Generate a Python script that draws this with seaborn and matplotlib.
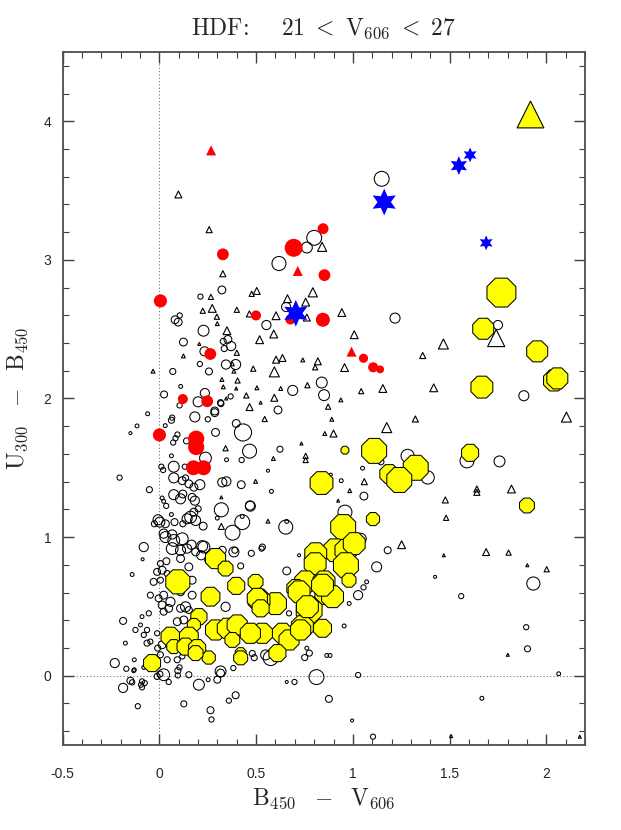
"""
plot.py - HDF colour-colour diagram (U300-B450 vs B450-V606)
"""
import matplotlib

matplotlib.use("Agg")

import matplotlib.pyplot as plt
from matplotlib.ticker import MultipleLocator
import numpy as np
import pandas as pd
import seaborn as sns

# open circles: B450-V606, U300-B450, V606 magnitude
circ_x = [0.618, 0.80, 0.762, 0.323, 0.212, 0.655, 1.149, 0.081, 0.105, 0.097, 0.553, 0.228, 0.124,
          0.354, 0.371, 0.33, 0.335, 0.233, 0.209, 0.344, 0.394, 0.069, 0.256, 0.11, 0.024, 0.235,
          0.368, 0.839, 0.689, 0.851, 1.218, 1.75, 0.613, 1.884, 0.466, 0.623, 1.283, 1.59, 1.758,
          1.387, 1.145, 1.05, 0.886, 0.94, 0.561, 0.579, 1.057, 0.653, 0.658, 0.959, 1.041, 0.528,
          0.722, 0.658, 1.18, 1.123, 1.071, 1.055, 1.027, 0.981, 0.955, 1.425, 1.56, 1.933, 1.896,
          1.903, 0.882, 0.865, 0.775, 0.751, 0.762, 0.575, 0.549, 0.812, 1.027, 0.698, 0.658, 0.876,
          0.996, 1.104, 1.667, 2.064, 0.67,
          -0.081, 0.066, 0.109, 0.143, 0.187, 0.23, 0.109, 0.036, 0.005, 0.385, 0.42, 0.475, -0.087,
          -0.141, -0.012, 0.014, -0.03, 0.04, 0.005, -0.047, -0.004, 0.022, 0.057, 0.014, 0.048,
          0.022, 0.109, 0.135, 0.169, -0.055, -0.09, -0.124, -0.098, -0.188, -0.176, -0.231, -0.171,
          -0.133, -0.081, -0.012, 0.022, -0.188, -0.15, -0.141, -0.09, -0.095, -0.076, -0.09, -0.112,
          0.048, 0.095, 0.104, 0.095, 0.152, 0.204, 0.126, 0.264, 0.269, 0.359, 0.394, 0.316, 0.252,
          0.382, 0.092, 0.118, 0.04, 0.014, -0.009, 0.005, -0.064, -0.047, -0.081, -0.064, -0.012,
          0.49, 0.48, 0.342, 0.299, 0.316, 0.109, 0.126, 0.092, 0.126, 0.109, 0.152, 0.118, 0.083,
          0.152, 0.169, 0.216, 0.255, 0.281, 0.325, -0.13, -0.13, 0.002,
          0.20, 0.318, -0.061, 0.066, 0.062, 0.183, 0.286, 0.25, -0.116, -0.15, 0.03, 0.29, 0.397,
          0.432, 0.093, 0.083, 0.071, 0.14, 0.062, 0.347, 0.425, 0.238, 0.074, 0.01, 0.019, 0.131,
          -0.206, -0.052, 0.074, 0.118, 0.135, 0.152, 0.178, 0.209, 0.325, 0.346, 0.423, 0.47, 0.074,
          0.121, 0.109, 0.169, 0.183, 0.014, 0.022, 0.035, 0.062, 0.32, 0.20, 0.178, 0.161, 0.143,
          0.187, 0.299, 0.428, 0.002, 0.031, -0.007, -0.026, 0.078, 0.121, 0.226, 0.378, 0.022, 0.031,
          0.066, 0.074, 0.118, 0.166, 0.221, 0.532, 0.39, 0.104, 0.286, 0.316, 0.468, 0.428]
circ_y = [2.974, 3.159, 3.089, 2.783, 2.735, 2.66, 3.585, 2.568, 2.599, 2.551, 2.53, 2.489, 2.407,
          2.426, 2.378, 2.412, 2.36, 2.34, 2.249, 2.245, 2.245, 2.195, 2.195, 2.087, 2.029, 2.039,
          2.015, 2.115, 2.058, 2.024, 2.58, 2.53, 1.917, 2.02, 1.62, 1.634, 1.586, 1.55, 1.546,
          1.43, 1.543, 1.497, 1.45, 1.407, 1.479, 1.33, 1.296, 1.072, 1.113, 1.18, 0.988, 0.917,
          0.869, 0.756, 0.905, 0.785, 0.677, 0.637, 0.581, 0.521, 0.359, 0.713, 0.574, 0.665, 0.35,
          0.194, 0.146, 0.146, 0.163, 0.131, 0.199, 0.127, 0.15, -0.01, 0.005, -0.045, -0.045, -0.167,
          -0.323, -0.44, -0.163, 0.014, 0.45,
          0.928, 0.917, 0.905, 0.917, 0.893, 0.928, 0.845, 0.826, 0.809, 0.893, 0.792, 0.883, 0.84,
          0.73, 0.749, 0.761, 0.677, 0.737, 0.689, 0.581, 0.558, 0.581, 0.533, 0.51, 0.486,
          0.462, 0.605, 0.497, 0.581, 0.45, 0.426, 0.33, 0.366, 0.395, 0.235, 0.091, 0.05,
          0.036, 0.06, -0.005, 0.007, -0.088, -0.036, -0.048, -0.041, -0.065, -0.053, -0.084, -0.22,
          -0.045, 0.036, 0.06, 0.002, 0.007, -0.065, -0.203, -0.249, -0.316, -0.18, -0.141, 0.031, -0.029,
          0.055, 0.115, 0.139, 0.115, 0.223, 0.199, 0.151, 0.235, 0.246, 0.294, 0.33, 0.306,
          0.13, 0.16, 0.497, -0.029, 0.019, 0.223, 0.175, 0.39, 0.402, 0.486, 0.474, 0.702, 0.725,
          0.785, 0.689, 0.869, 0.833, 0.881, 0.905, 0.115, 0.043, 0.012,
          1.976, 1.963, 1.89, 1.862, 1.843, 1.867, 1.898, 1.85, 1.802, 1.75, 1.804, 1.755, 1.82,
          1.755, 1.74, 1.713, 1.682, 1.694, 1.586, 1.558, 1.556, 1.57, 1.508, 1.508, 1.484, 1.508,
          1.429, 1.342, 1.427, 1.407, 1.427, 1.384, 1.36, 1.378, 1.395, 1.402, 1.378, 1.223, 1.306,
          1.311, 1.276, 1.287, 1.263, 1.282, 1.258, 1.225, 1.163, 1.197, 1.204, 1.18, 1.144, 1.132,
          1.12, 1.137, 1.108, 1.108, 1.096, 1.125, 1.096, 1.108, 1.096, 1.079, 1.032, 1.025, 1.0,
          1.019, 0.976, 0.988, 0.945, 0.935, 0.928, 0.905, 1.95, 1.91, 1.97, 1.228, 1.149]
circ_v = [24.5, 24.3, 25.2, 25.9, 26.5, 25.6, 24.3, 25.9, 26.5, 25.9, 25.6, 25.2, 25.9,
          25.9, 25.6, 26.3, 26.3, 25.6, 26.5, 25.6, 25.4, 26.3, 26.1, 26.8, 26.1, 25.6,
          26.5, 25.2, 25.4, 25.2, 25.4, 25.6, 25.9, 25.4, 24.5, 26.3, 24.7, 24.5, 25.2,
          24.7, 26.3, 26.8, 27.0, 26.8, 27.0, 26.8, 25.9, 24.5, 26.8, 24.5, 25.2, 26.5,
          27.0, 25.9, 26.1, 25.4, 26.8, 26.5, 25.6, 26.8, 26.8, 27.0, 26.5, 24.7, 26.5,
          26.3, 26.8, 26.8, 26.3, 26.3, 26.8, 24.3, 25.4, 24.3, 26.5, 26.5, 27.0, 26.1,
          27.0, 26.5, 26.8, 26.8, 26.5,
          25.6, 25.0, 25.4, 25.6, 25.9, 25.0, 25.9, 26.1, 26.3, 25.4, 26.3, 26.3, 27.0,
          26.8, 26.1, 25.9, 26.1, 26.3, 26.3, 26.3, 26.1, 25.9, 25.6, 25.9, 25.9,
          26.1, 25.9, 25.4, 25.9, 26.5, 26.8, 26.5, 26.8, 26.1, 26.8, 25.6, 26.5,
          26.8, 26.8, 26.3, 25.0, 25.6, 26.1, 26.5, 26.5, 26.5, 26.5, 26.5, 26.5,
          26.5, 26.3, 26.5, 26.5, 26.3, 25.2, 26.3, 26.1, 26.5, 26.5, 26.1, 25.2, 26.8,
          26.5, 26.3, 26.5, 26.3, 25.9, 26.3, 26.3, 26.3, 26.5, 26.5, 26.5, 26.5,
          26.3, 26.3, 25.6, 26.1, 25.9, 26.1, 26.3, 25.9, 25.9, 25.9, 26.1, 25.6, 26.1,
          25.9, 25.9, 25.6, 25.9, 26.3, 25.9, 26.8, 26.8, 26.3,
          25.4, 26.3, 26.8, 26.5, 26.3, 25.4, 25.9, 26.5, 26.8, 27.0, 26.8, 25.9, 25.9,
          23.8, 26.5, 26.5, 26.5, 26.3, 26.8, 26.8, 26.5, 25.0, 25.2, 26.5, 26.5, 26.5,
          26.5, 26.3, 25.4, 25.9, 26.3, 25.9, 25.9, 25.4, 25.6, 25.6, 25.9, 25.4, 25.4,
          25.9, 25.4, 25.9, 25.6, 26.8, 26.8, 26.5, 26.8, 24.5, 26.3, 25.9, 25.0, 25.4,
          25.4, 26.8, 24.3, 25.4, 25.9, 25.4, 26.3, 26.1, 26.3, 25.9, 24.3, 25.6, 25.2,
          25.6, 25.0, 25.0, 25.6, 25.2, 26.3, 26.3, 26.5, 25.9, 26.3, 25.6, 26.8]

# open triangles
tri_x = [0.098, 0.257, 0.328, 0.841, 0.793, 0.266, 0.503, 0.477, 0.273, 0.662, 0.756, 0.40, 0.224,
         0.297, 0.299, 0.465, 0.603, 0.762, 0.943, 0.349, 0.40, 0.591, 0.518, 1.007, 0.124, -0.033,
         0.603, 0.636, 0.741, 0.819, 0.805, 0.594, 0.485, 0.957, 1.155, 1.043, 0.765, 0.504, 0.449,
         0.627, 0.594, 0.938, 0.377, 0.404, 0.323, 0.33, 1.468, 1.741, 1.361, 1.418, 0.872, 0.544,
         0.891, 1.175, 1.323, 2.104, 0.855, 0.90, 0.734, 0.756, 0.756, 0.589, 0.497, 1.059, 0.984,
         1.641, 1.641, 1.82, 1.478, 0.561, 0.924, 1.482, 1.252, 1.689, 1.805, 1.47, 1.902, 2.002,
         1.801, 2.173, 1.508, 0.206, 0.385, 0.397, 0.345, 0.466, 0.523, 0.342, 0.32, 0.32]
tri_y = [3.472, 3.218, 2.90, 3.094, 2.766, 2.733, 2.776, 2.755, 2.65, 2.72, 2.695, 2.64, 2.633,
         2.59, 2.54, 2.61, 2.597, 2.584, 2.62, 2.489, 2.33, 2.465, 2.424, 2.46, 2.307, 2.197,
         2.28, 2.292, 2.278, 2.268, 2.225, 2.192, 2.215, 2.223, 2.072, 2.053, 2.096, 2.077, 2.022,
         2.072, 2.005, 1.99, 2.25, 2.13, 2.137, 2.084, 2.393, 2.436, 2.31, 2.077, 1.941, 1.852,
         1.85, 1.79, 1.852, 1.866, 1.747, 1.747, 1.675, 1.586, 1.556, 1.567, 1.402, 1.40, 1.335,
         1.347, 1.323, 1.347, 1.268, 1.115, 1.263, 1.139, 0.945, 0.892, 0.888, 0.869, 0.797, 0.768,
         0.151, -0.44, -0.436, 2.394, 2.197, 2.072, 2.0, 1.938, 1.97, 1.641, 1.287, 1.077]
tri_v = [26.1, 26.3, 26.3, 25.6, 25.6, 26.5, 26.1, 26.5, 25.9, 25.9, 25.9, 26.5, 26.5,
         26.5, 26.8, 26.3, 25.9, 26.1, 25.9, 25.9, 26.5, 25.9, 25.9, 25.9, 26.8, 26.8,
         26.1, 26.1, 26.8, 26.1, 26.5, 25.4, 26.5, 25.9, 25.9, 26.5, 26.5, 26.8, 26.5,
         26.8, 26.1, 26.8, 26.8, 26.5, 26.8, 26.8, 25.4, 23.8, 26.3, 25.9, 26.5, 26.5,
         26.8, 25.4, 26.3, 25.4, 26.8, 26.1, 27.0, 26.5, 26.5, 26.8, 26.8, 26.3, 26.8,
         26.3, 26.3, 25.9, 26.3, 26.8, 27.0, 26.5, 25.9, 26.1, 26.5, 27.0, 27.0, 26.5,
         27.0, 27.0, 27.0, 27.0, 26.8, 27.0, 27.0, 26.1, 27.0, 26.5, 27.0, 26.3]

# yellow filled circles
yel_x = [1.768, 1.674, 1.953, 2.04, 2.057, 1.667, 0.959, 1.11, 1.606, 1.325, 1.188, 1.24, 0.838,
         1.90, 1.104, 0.95, 0.907, 0.964, 1.007, 0.808, 0.805, 0.964, 0.98, 0.756, 0.851, 0.86,
         0.895, 0.705, 0.60, 0.774, 0.515, 0.843, 0.739, 0.636, 0.67, 0.532, 0.61, 0.29, 0.342,
         0.095, 0.264, 0.397, 0.497, 0.506, 0.204, 0.178, 0.057, 0.152, 0.074, 0.135, 0.195, 0.255,
         -0.038, 0.29, 0.351, 0.402, 0.377, 0.42, 0.47, 0.523, 0.722, 0.765, 0.73, 0.843, 0.187,
         0.42]
yel_y = [2.764, 2.503, 2.34, 2.13, 2.145, 2.082, 1.627, 1.622, 1.608, 1.50, 1.455, 1.412, 1.39,
         1.228, 1.13, 1.072, 0.905, 0.905, 0.953, 0.88, 0.808, 0.797, 0.689, 0.677, 0.677, 0.594,
         0.57, 0.63, 0.52, 0.474, 0.546, 0.342, 0.354, 0.306, 0.258, 0.306, 0.163, 0.845, 0.773,
         0.677, 0.57, 0.648, 0.677, 0.558, 0.426, 0.366, 0.282, 0.282, 0.21, 0.21, 0.199, 0.131,
         0.091, 0.33, 0.342, 0.366, 0.258, 0.163, 0.306, 0.486, 0.605, 0.498, 0.33, 0.653, 0.163,
         0.129]
yel_v = [21.1, 22.9, 22.9, 22.9, 22.9, 22.7, 25.9, 22.0, 23.8, 22.0, 23.4, 22.0, 22.5,
         24.3, 24.7, 22.0, 22.5, 22.7, 22.7, 22.7, 22.7, 22.0, 24.5, 22.7, 22.7, 22.7,
         22.7, 23.6, 22.7, 21.8, 22.7, 23.6, 22.7, 23.1, 23.1, 23.1, 23.8, 23.1, 24.3,
         22.2, 23.4, 23.8, 24.3, 23.1, 24.0, 24.7, 23.4, 23.4, 24.5, 23.8, 23.8, 24.7,
         23.8, 23.1, 23.1, 23.1, 24.3, 25.2, 23.1, 23.8, 22.7, 22.7, 23.1, 22.7, 24.3,
         24.5]

# red filled circles and triangles
red_x = [0.846, 0.694, 0.328, 0.853, 0.005, 0.499, 0.677, 0.845, 1.055, 1.105, 1.141, 0.263, 0.121,
         0.247, 0.0, 0.19, 0.19, 0.176, 0.228]
red_y = [3.225, 3.087, 3.04, 2.89, 2.704, 2.599, 2.57, 2.568, 2.29, 2.225, 2.21, 2.321, 1.996,
         1.98, 1.737, 1.71, 1.65, 1.50, 1.50]
red_v = [25.2, 23.6, 25.0, 25.0, 24.7, 25.4, 25.4, 24.5, 25.6, 25.4, 25.9, 25.0, 25.4,
         25.0, 24.7, 24.0, 24.0, 24.3, 24.3]
redtri_x = [0.267, 0.715, 0.993]
redtri_y = [3.79, 2.92, 2.338]
redtri_v = [25.4, 25.4, 25.4]

# blue stars
star_x = [1.162, 1.548, 1.606, 1.689, 0.705]
star_y = [3.417, 3.68, 3.757, 3.123, 2.615]
star_v = [21.6, 23.4, 24.3, 24.3, 21.6]

# yellow triangle
ytri_x = [1.917]
ytri_y = [4.05]
ytri_v = [21.6]

DPI = 100


def marker_area(v, scale=1.0):
    # brighter objects get bigger symbols
    diam_px = scale * (3 + 4.4 * (27 - np.asarray(v)))
    return (diam_px * 72 / DPI) ** 2


def frame(x, y, v):
    return pd.DataFrame({"x": x, "y": y, "v": v})


sns.set_style("ticks")
plt.rcParams["font.family"] = ["Liberation Sans", "DejaVu Sans"]
plt.rcParams["mathtext.fontset"] = "cm"

fig = plt.figure(figsize=(6.21, 8.30), dpi=DPI)
ax = fig.add_axes([0.101, 0.1024, 0.841, 0.835])

ax.axvline(0, color="0.45", ls=(0, (1, 2)), lw=0.8, zorder=0)
ax.axhline(0, color="0.45", ls=(0, (1, 2)), lw=0.8, zorder=0)

groups = [
    (frame(circ_x, circ_y, circ_v), 1.0, dict(marker="o", facecolor="none", edgecolor="black", linewidth=0.75)),
    (frame(tri_x, tri_y, tri_v), 1.0, dict(marker="^", facecolor="none", edgecolor="black", linewidth=0.8)),
    (frame(yel_x, yel_y, yel_v), 1.08, dict(marker="8", facecolor="#ffff00", edgecolor="black", linewidth=0.75)),
    (frame(red_x, red_y, red_v), 1.0, dict(marker="o", color="#ff0000", linewidth=0)),
    (frame(redtri_x, redtri_y, redtri_v), 1.0, dict(marker="^", color="#ff0000", linewidth=0)),
    (frame(star_x, star_y, star_v), 1.0, dict(marker=(6, 1, 0), color="#0000ff", linewidth=0)),
    (frame(ytri_x, ytri_y, ytri_v), 1.0, dict(marker="^", facecolor="#ffff00", edgecolor="black", linewidth=0.8)),
]
for df, scale, style in groups:
    sns.scatterplot(data=df, x="x", y="y", s=marker_area(df["v"], scale), ax=ax, legend=False, **style)

ax.set_xlim(-0.5, 2.2)
ax.set_ylim(-0.5, 4.5)
ax.xaxis.set_major_locator(MultipleLocator(0.5))
ax.xaxis.set_minor_locator(MultipleLocator(0.1))
ax.yaxis.set_major_locator(MultipleLocator(1))
ax.yaxis.set_minor_locator(MultipleLocator(0.2))
ax.xaxis.set_major_formatter(plt.FuncFormatter(lambda v, p: f"{v:g}"))
ax.yaxis.set_major_formatter(plt.FuncFormatter(lambda v, p: f"{v:g}" if v >= 0 else ""))
ax.tick_params(which="both", direction="in", top=True, right=True, labelsize=10, color="0.25")
ax.tick_params(which="major", length=8, width=1.0)
ax.tick_params(which="minor", length=4, width=0.8)
ax.tick_params(axis="x", pad=16)
ax.tick_params(axis="y", pad=8)
for sp in ax.spines.values():
    sp.set_linewidth(1.3)
    sp.set_color("0.3")

ax.set_xlabel(r"$\mathrm{B}_{450}\ \ -\ \ \mathrm{V}_{606}$", fontsize=17, labelpad=4)
ax.set_ylabel(r"$\mathrm{U}_{300}\ \ -\ \ \mathrm{B}_{450}$", fontsize=17, labelpad=10)
ax.set_title(r"$\mathrm{HDF}\!:\ \ \ \ 21\ <\ \mathrm{V}_{606}\ <\ 27$", fontsize=17, pad=12)

fig.savefig("out.png", dpi=DPI)
